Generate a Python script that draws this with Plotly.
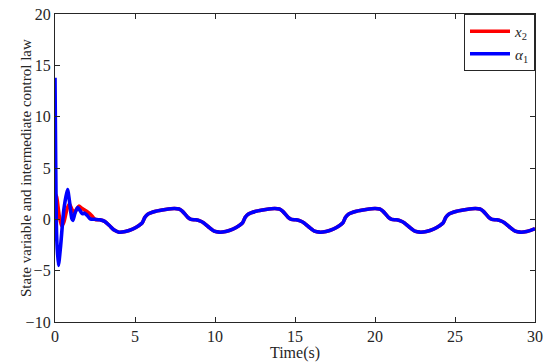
import plotly.graph_objects as go

# Time samples (s) and values
t_blue = [0.0, 0.04, 0.1, 0.21, 0.35, 0.55, 0.78, 0.9, 1.05, 1.12, 1.25, 1.42, 1.55, 1.7, 1.85, 2.0, 2.2, 2.5, 2.8, 3.1, 3.4, 3.7,
          4.0, 4.4, 4.85, 5.25, 5.45, 5.62, 5.8, 6.3, 6.9, 7.45, 7.75, 7.95, 8.3, 8.5, 8.8, 9.05, 9.3, 9.6, 9.95,
          10.27, 10.67, 11.12, 11.52, 11.72, 11.89, 12.07, 12.57, 13.17, 13.72, 14.02, 14.22, 14.57, 14.77, 15.07, 15.32, 15.57, 15.87, 16.22,
          16.54, 16.94, 17.39, 17.79, 17.99, 18.16, 18.34, 18.84, 19.44, 19.99, 20.29, 20.49, 20.84, 21.04, 21.34, 21.59, 21.84, 22.14, 22.49,
          22.81, 23.21, 23.66, 24.06, 24.26, 24.43, 24.61, 25.11, 25.71, 26.26, 26.56, 26.76, 27.11, 27.31, 27.61, 27.86, 28.11, 28.41, 28.76,
          29.08, 29.48, 29.93, 30.0]
alpha1 = [13.8, 6.0, -1.5, -4.5, -2.6, 0.9, 2.9, 1.8, 0.1, -0.1, 0.6, 1.15, 0.9, 0.55, 0.6, 0.4, 0.05, 0.0, -0.05, -0.2, -0.6, -1.05,
          -1.25, -1.18, -0.95, -0.6, -0.35, 0.2, 0.5, 0.78, 0.95, 1.05, 1.0, 0.8, 0.2, 0.0, -0.05, -0.15, -0.35, -0.75, -1.15,
          -1.25, -1.18, -0.95, -0.6, -0.35, 0.2, 0.5, 0.78, 0.95, 1.05, 1.0, 0.8, 0.2, 0.0, -0.05, -0.15, -0.35, -0.75, -1.15,
          -1.25, -1.18, -0.95, -0.6, -0.35, 0.2, 0.5, 0.78, 0.95, 1.05, 1.0, 0.8, 0.2, 0.0, -0.05, -0.15, -0.35, -0.75, -1.15,
          -1.25, -1.18, -0.95, -0.6, -0.35, 0.2, 0.5, 0.78, 0.95, 1.05, 1.0, 0.8, 0.2, 0.0, -0.05, -0.15, -0.35, -0.75, -1.15,
          -1.25, -1.18, -0.95, -0.9]

t_red_start = [0.0, 0.1, 0.25, 0.42, 0.55, 0.75, 0.9, 1.05, 1.2, 1.35, 1.5, 1.65, 1.85, 2.05, 2.3]
x2_start = [2.5, 2.2, 0.5, -0.65, -0.3, 1.0, 1.5, 1.0, 0.6, 1.0, 1.3, 1.1, 0.9, 0.7, 0.35]

x_ticks = [0, 5, 10, 15, 20, 25, 30]
y_ticks = [-10, -5, 0, 5, 10, 15, 20]

# after the transient the state tracks the virtual control
t_red = t_red_start + [t for t in t_blue if t >= 2.5]
x2 = x2_start + [v for t, v in zip(t_blue, alpha1) if t >= 2.5]

FONT = "Liberation Serif"
INK = "#262626"

fig = go.Figure()
fig.add_trace(go.Scatter(x=t_red, y=x2, mode="lines", name="<i>x</i><sub>2</sub>",
                         line=dict(color="#ff0000", width=3.6, shape="spline", smoothing=0.7)))
fig.add_trace(go.Scatter(x=t_blue, y=alpha1, mode="lines", name="<i>α</i><sub>1</sub>",
                         line=dict(color="#0000ff", width=3.6, shape="spline", smoothing=0.7)))

axis_common = dict(showline=True, linecolor=INK, linewidth=1.3, mirror="ticks",
                   ticks="inside", ticklen=5, tickwidth=1.2, tickcolor=INK,
                   showgrid=False, zeroline=False, automargin=False,
                   ticklabeloverflow="allow",
                   tickfont=dict(family=FONT, size=16, color=INK))

fig.update_layout(
    width=550, height=362,
    margin=dict(l=55, r=15, t=14, b=40, autoexpand=False),
    plot_bgcolor="white", paper_bgcolor="white",
    font=dict(family=FONT, size=16, color=INK),
    xaxis=dict(range=[0, 30], tickvals=x_ticks,
               title=dict(text="Time(s)", font=dict(family=FONT, size=16, color=INK), standoff=0),
               **axis_common),
    yaxis=dict(range=[-10, 20], tickvals=y_ticks, **axis_common),
    legend=dict(x=1, xanchor="right", y=1, yanchor="top", bgcolor="white",
                bordercolor=INK, borderwidth=1,
                font=dict(family=FONT, size=15, color=INK),
                itemwidth=40, tracegroupgap=0),
    showlegend=True,
    annotations=[dict(text="State variable and intermediate control law", textangle=-90,
                      xref="paper", yref="paper", x=0, y=0.5, xanchor="center", yanchor="middle",
                      xshift=-29, showarrow=False, font=dict(family=FONT, size=15, color=INK))],
)

fig.write_html("out.html", config={"displayModeBar": False},
               post_script="document.body.style.margin='0';document.body.style.overflow='hidden';")
